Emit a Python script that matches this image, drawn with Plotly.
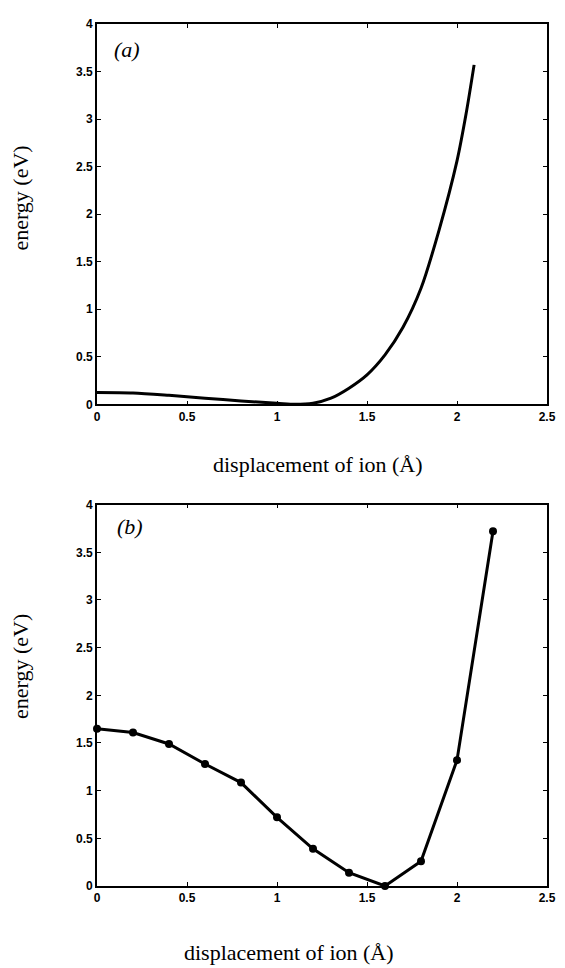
import plotly.graph_objects as go
from plotly.subplots import make_subplots

# Panel (a): continuous energy curve
disp_a = [0.0, 0.2, 0.4, 0.6, 0.8, 1.0, 1.1, 1.2, 1.3, 1.4, 1.5, 1.6, 1.7, 1.8, 1.9, 2.0, 2.05, 2.095]
energy_a = [0.125, 0.12, 0.095, 0.065, 0.035, 0.012, 0.0, 0.012, 0.065, 0.17, 0.31, 0.52, 0.81, 1.22, 1.83, 2.56, 3.05, 3.57]

# Panel (b): computed points
disp_b = [0.0, 0.2, 0.4, 0.6, 0.8, 1.0, 1.2, 1.4, 1.6, 1.8, 2.0, 2.2]
energy_b = [1.65, 1.61, 1.49, 1.28, 1.085, 0.72, 0.39, 0.14, 0.0, 0.26, 1.32, 3.72]

x_ticks = [0, 0.5, 1, 1.5, 2, 2.5]
x_tick_labels = ["0", "0.5", "1", "1.5", "2", "2.5"]
y_ticks = [0, 0.5, 1, 1.5, 2, 2.5, 3, 3.5, 4]
y_tick_labels = ["0", "0.5", "1", "1.5", "2", "2.5", "3", "3.5", "4"]

x_title = "displacement of ion (Å)"
y_title = "energy (eV)"

fig = make_subplots(rows=2, cols=1, vertical_spacing=0.1164)
fig.update_yaxes(domain=[0.5588, 1.0], row=1, col=1)
fig.update_yaxes(domain=[0.0, 0.4424], row=2, col=1)

fig.add_trace(go.Scatter(x=disp_a, y=energy_a, mode="lines",
                         line=dict(color="black", width=3, shape="spline", smoothing=0.8),
                         showlegend=False), row=1, col=1)
fig.add_trace(go.Scatter(x=disp_b, y=energy_b, mode="lines+markers",
                         line=dict(color="black", width=3),
                         marker=dict(color="black", size=8),
                         showlegend=False, cliponaxis=False), row=2, col=1)

axis_common = dict(showline=True, linecolor="black", linewidth=1.6, mirror="ticks",
                   ticks="inside", ticklen=4, tickwidth=1.2, tickcolor="black",
                   showgrid=False, zeroline=False,
                   tickfont=dict(family="Liberation Sans, Arial", size=12, color="black", weight="bold"))
for r in (1, 2):
    fig.update_xaxes(range=[0, 2.5], tickvals=x_ticks, ticktext=x_tick_labels, row=r, col=1, **axis_common)
    fig.update_yaxes(range=[0, 4], tickvals=y_ticks, ticktext=y_tick_labels, row=r, col=1, **axis_common)

serif = dict(family="Liberation Serif, Times New Roman, serif", size=22, color="black")
ann = [
    dict(text=y_title, x=-0.17, y=0.798, textangle=-90),
    dict(text=y_title, x=-0.17, y=0.2546, textangle=-90),
    dict(text=x_title, x=0.49, y=0.4885),
    dict(text=x_title, x=0.427, y=-0.0772),
    dict(text="<i>(a)</i>", x=0.066, y=0.970),
    dict(text="<i>(b)</i>", x=0.073, y=0.417),
]
for a in ann:
    fig.add_annotation(xref="paper", yref="paper", showarrow=False,
                       xanchor="center", yanchor="middle", font=serif, **a)

# The page body adds an 8px offset; size the figure so the plot lands where the reference has it
fig.update_layout(width=557, height=960, margin=dict(l=89, r=9, t=10, b=82),
                  plot_bgcolor="white", paper_bgcolor="white")
fig.write_html("out.html")
